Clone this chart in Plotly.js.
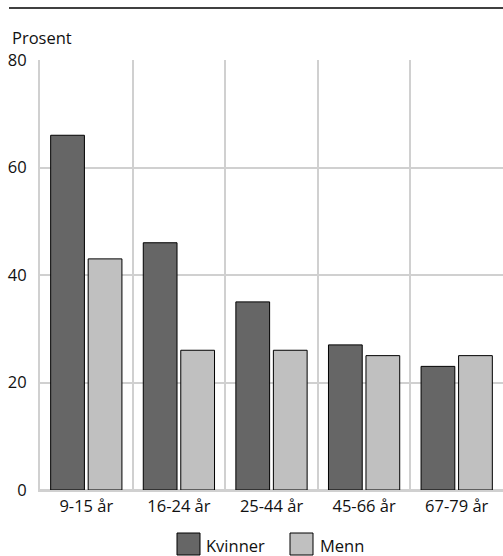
<!DOCTYPE html>
<html>
<head>
<meta charset="utf-8">
<script src="https://cdn.plot.ly/plotly-3.0.1.min.js"></script>
<style>
html,body{margin:0;padding:0;background:#fff;}
#chart{width:503px;height:556px;}
</style>
</head>
<body>
<div id="chart"></div>
<script>
var categories = ["9-15 år", "16-24 år", "25-44 år", "45-66 år", "67-79 år"];
var seriesNames = ["Kvinner", "Menn"];
var kvinner = [66, 46, 35, 27, 23];
var menn = [43, 26, 26, 25, 25];
var yTicks = [0, 20, 40, 60, 80];
var colors = ["#666666", "#c0c0c0"];

var font = {family: "Open Sans, Noto Sans, sans-serif", size: 16.5, color: "#111111"};

var traces = [
  {type: "bar", name: seriesNames[0], x: categories, y: kvinner,
   marker: {color: colors[0], line: {color: "#000", width: 1}}, hoverinfo: "skip"},
  {type: "bar", name: seriesNames[1], x: categories, y: menn,
   marker: {color: colors[1], line: {color: "#000", width: 1}}, hoverinfo: "skip"}
];

// plot area geometry helpers (paper coords)
var L = 40, T = 60, W = 503, H = 556, B = 66, R = 0;
var pw = W - L - R, ph = H - T - B;
function px(x){ return (x - L) / pw; }
function py(y){ return (H - B - y) / ph; }

var grid = "#d0d0d0";

var shapes = [
  {type: "line", xref: "paper", yref: "paper", x0: px(9), x1: px(503), y0: py(8), y1: py(8),
   line: {color: "#000", width: 1.3}},
  {type: "rect", xref: "paper", yref: "paper", x0: px(177), x1: px(200), y0: py(555), y1: py(533),
   fillcolor: colors[0], line: {color: "#000", width: 1}},
  {type: "rect", xref: "paper", yref: "paper", x0: px(290), x1: px(313), y0: py(555), y1: py(533),
   fillcolor: colors[1], line: {color: "#000", width: 1}}
];

var annotations = [
  {text: "Prosent", xref: "paper", yref: "paper", x: px(10), y: py(37), xanchor: "left", yanchor: "middle",
   showarrow: false, font: font},
  {text: seriesNames[0], xref: "paper", yref: "paper", x: px(204), y: py(545), xanchor: "left", yanchor: "middle",
   showarrow: false, font: font},
  {text: seriesNames[1], xref: "paper", yref: "paper", x: px(318), y: py(545), xanchor: "left", yanchor: "middle",
   showarrow: false, font: font}
];

var layout = {
  width: W, height: H,
  margin: {l: L, r: R, t: T, b: B, pad: 0},
  paper_bgcolor: "#fff", plot_bgcolor: "#fff",
  font: font,
  showlegend: false,
  barmode: "group",
  bargap: 0.19,
  bargroupgap: 0.1,
  xaxis: {
    type: "category",
    tickson: "boundaries",
    showgrid: true, gridcolor: grid, gridwidth: 2,
    ticks: "", ticklen: 0,
    showline: true, linecolor: grid, linewidth: 2,
    zeroline: false,
    tickfont: font,
    fixedrange: true
  },
  yaxis: {
    range: [0, 80],
    tickvals: yTicks,
    ticktext: yTicks.map(String),
    showgrid: true, gridcolor: grid, gridwidth: 2,
    zeroline: true, zerolinecolor: grid, zerolinewidth: 2,
    showline: true, linecolor: grid, linewidth: 2,
    ticks: "", ticklabelstandoff: 8,
    tickfont: font,
    fixedrange: true
  },
  shapes: shapes,
  annotations: annotations
};

Plotly.newPlot("chart", traces, layout, {staticPlot: true, displayModeBar: false});
</script>
</body>
</html>
